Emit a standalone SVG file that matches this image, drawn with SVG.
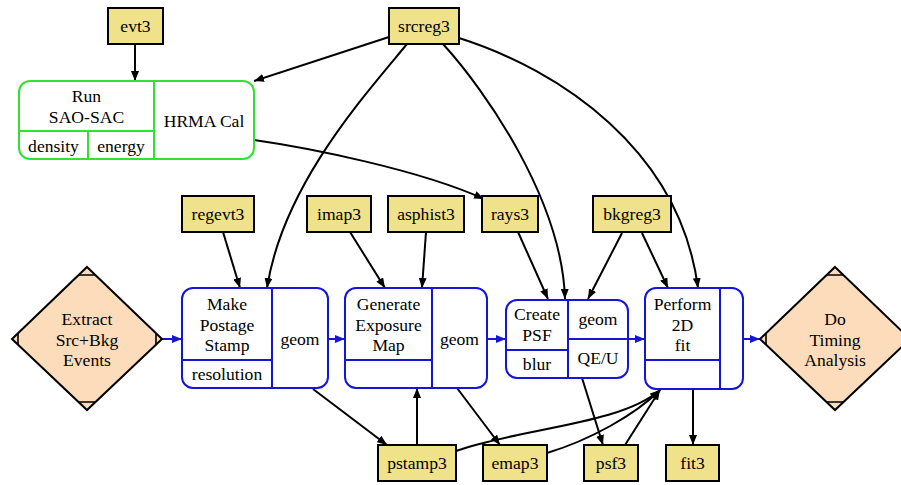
<svg xmlns="http://www.w3.org/2000/svg" width="901" height="485" viewBox="0 0 901 485">
<defs>
<marker id="ah" markerUnits="userSpaceOnUse" markerWidth="11" markerHeight="8" refX="10" refY="4" orient="auto"><path d="M0,0 L10,4 L0,8 z" fill="#000"/></marker>
<marker id="ahb" markerUnits="userSpaceOnUse" markerWidth="11" markerHeight="8" refX="10" refY="4" orient="auto"><path d="M0,0 L10,4 L0,8 z" fill="#1515d5"/></marker>
</defs>
<style>
text{font-family:"Liberation Serif","Times New Roman",serif;font-size:17.6px;fill:#000;text-anchor:middle}
.data rect{fill:#efe28a;stroke:#000;stroke-width:2}
.rec{fill:#fff;stroke:#1515d5;stroke-width:2}
.recl{stroke:#1515d5;stroke-width:2;fill:none}
.grn{fill:#fff;stroke:#33e033;stroke-width:2}
.grnl{stroke:#33e033;stroke-width:2;fill:none}
.dia{fill:#fcdcbb;stroke:#000;stroke-width:2}
.diam{stroke:#000;stroke-width:1.6;fill:none}
.e{fill:none;stroke:#000;stroke-width:2;marker-end:url(#ah)}
.eb{fill:none;stroke:#1515d5;stroke-width:2;marker-end:url(#ahb)}
</style>
<rect width="901" height="485" fill="#fff"/>

<g id="connectors">
<path class="e" d="M135,44 L135,81"/>
<path class="e" d="M389,37 L254,81"/>
<path class="e" d="M407,44 C365,95 283,185 267,288"/>
<path class="e" d="M443,44 C485,90 562,200 565,299"/>
<path class="e" d="M459,38 C560,70 680,150 698,288"/>
<path class="e" d="M254,140 C310,148 420,170 484,199"/>
<path class="e" d="M223,232 L240,288"/>
<path class="e" d="M350,232 L385,288"/>
<path class="e" d="M426,232 L422,288"/>
<path class="e" d="M518,232 L548,299"/>
<path class="e" d="M622,233 L588,299"/>
<path class="e" d="M642,233 L668,288"/>
<path class="e" d="M313,389 L387,445"/>
<path class="e" d="M417,445 L417,388"/>
<path class="e" d="M457,388 L500,445"/>
<path class="e" d="M582,378 L603,445"/>
<path class="e" d="M625,445 L660,390"/>
<path class="e" d="M547,453 C590,440 635,415 660,390"/>
<path class="e" d="M456,451 C520,428 620,425 660,390"/>
<path class="e" d="M693,389 L693,445"/>
<path class="eb" d="M162,339 L182,339"/>
<path class="eb" d="M328,339 L345,339"/>
<path class="eb" d="M487,339 L506,339"/>
<path class="eb" d="M628,339 L645,339"/>
<path class="eb" d="M743,339 L760,339"/>
</g>

<g id="evt3" class="data"><rect x="108" y="8" width="55" height="36"/><text x="135.5" y="32">evt3</text></g>
<g id="srcreg3" class="data"><rect x="389" y="8" width="70" height="36"/><text x="424" y="32">srcreg3</text></g>

<g id="saosac">
<rect class="grn" x="19" y="81" width="235" height="78" rx="11"/>
<path class="grnl" d="M154,81 V159 M19,131 H154 M88,131 V159"/>
<text x="86.5" y="102">Run</text>
<text x="86.5" y="123">SAO-SAC</text>
<text x="53.5" y="152">density</text>
<text x="121" y="152">energy</text>
<text x="204" y="127">HRMA Cal</text>
</g>

<g id="regevt3" class="data"><rect x="182" y="196" width="72" height="36"/><text x="218" y="220">regevt3</text></g>
<g id="imap3" class="data"><rect x="307" y="196" width="64" height="36"/><text x="339" y="220">imap3</text></g>
<g id="asphist3" class="data"><rect x="388" y="196" width="76" height="36"/><text x="426" y="220">asphist3</text></g>
<g id="rays3" class="data"><rect x="482" y="196" width="56" height="36"/><text x="510" y="220">rays3</text></g>
<g id="bkgreg3" class="data"><rect x="593" y="196" width="78" height="36"/><text x="632" y="220">bkgreg3</text></g>

<g id="extract">
<polygon class="dia" points="87,267 162,339 87,410 12,339"/>
<path class="diam" d="M78.7,275 H95.3 M78.7,402 H95.3 M18,333.2 V344.8 M156,333.2 V344.8"/>
<text x="87" y="325">Extract</text>
<text x="87" y="345.5">Src+Bkg</text>
<text x="87" y="366">Events</text>
</g>

<g id="pstamp">
<rect class="rec" x="182" y="288" width="146" height="100" rx="11"/>
<path class="recl" d="M272,288 V388 M182,360 H272"/>
<text x="227" y="310">Make</text>
<text x="227" y="330.5">Postage</text>
<text x="227" y="351">Stamp</text>
<text x="227" y="380">resolution</text>
<text x="300" y="345">geom</text>
</g>

<g id="expmap">
<rect class="rec" x="345" y="288" width="142" height="100" rx="11"/>
<path class="recl" d="M432,288 V388 M345,360 H432"/>
<text x="388.5" y="310">Generate</text>
<text x="388.5" y="330.5">Exposure</text>
<text x="388.5" y="351">Map</text>
<text x="459.5" y="345">geom</text>
</g>

<g id="psf">
<rect class="rec" x="506" y="300" width="122" height="78" rx="11"/>
<path class="recl" d="M568,300 V378 M506,350 H568 M568,339 H628"/>
<text x="537" y="320">Create</text>
<text x="537" y="341">PSF</text>
<text x="537" y="370">blur</text>
<text x="598" y="325">geom</text>
<text x="598" y="364">QE/U</text>
</g>

<g id="fit">
<rect class="rec" x="645" y="288" width="98" height="101" rx="11"/>
<path class="recl" d="M720,288 V389 M645,360 H720"/>
<text x="682.5" y="310">Perform</text>
<text x="682.5" y="330.5">2D</text>
<text x="682.5" y="351">fit</text>
</g>

<g id="timing">
<polygon class="dia" points="835,267 910,339 835,410 760,339"/>
<path class="diam" d="M826.7,275 H843.3 M826.7,402 H843.3 M766,333.2 V344.8"/>
<text x="835" y="325">Do</text>
<text x="835" y="345.5">Timing</text>
<text x="835" y="366">Analysis</text>
</g>

<g id="pstamp3" class="data"><rect x="378" y="445" width="78" height="36"/><text x="417" y="469">pstamp3</text></g>
<g id="emap3" class="data"><rect x="483" y="445" width="64" height="36"/><text x="515" y="469">emap3</text></g>
<g id="psf3" class="data"><rect x="584" y="445" width="54" height="36"/><text x="611" y="469">psf3</text></g>
<g id="fit3" class="data"><rect x="666" y="445" width="53" height="36"/><text x="692.5" y="469">fit3</text></g>
</svg>
